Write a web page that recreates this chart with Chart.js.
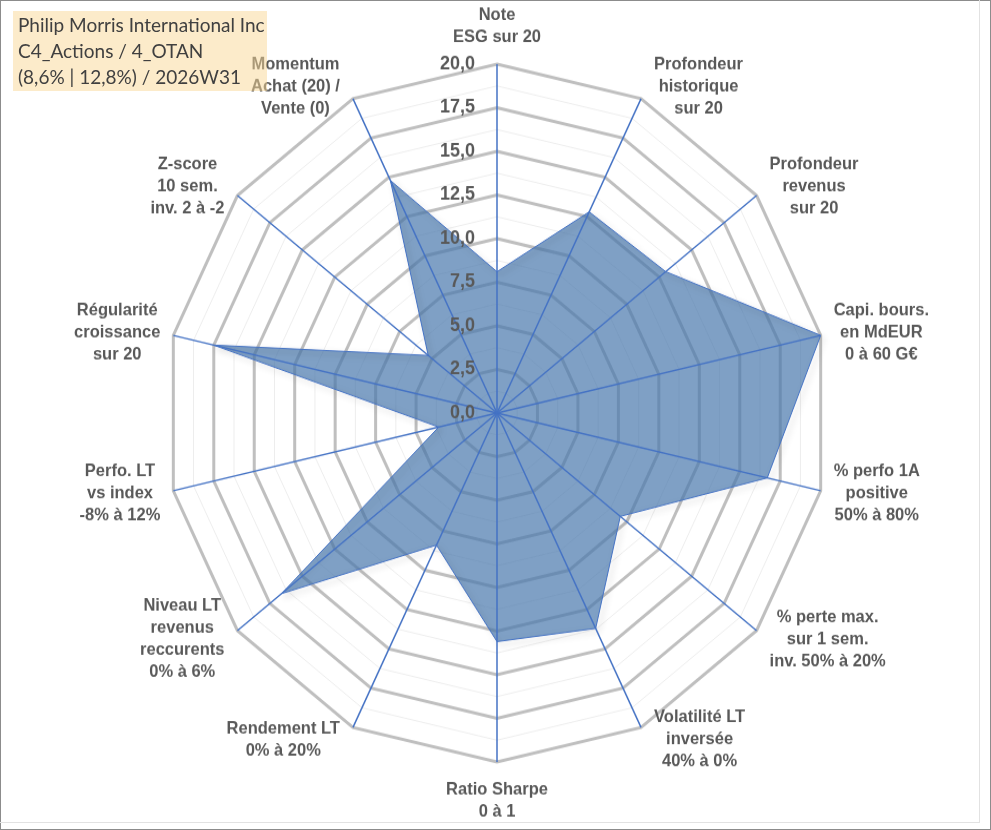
<!DOCTYPE html>
<html lang="fr">
<head>
<meta charset="utf-8">
<title>Philip Morris International Inc - radar</title>
<script src="https://cdn.jsdelivr.net/npm/chart.js@4/dist/chart.umd.min.js"></script>
<style>
  html, body { margin: 0; padding: 0; background: #fff; }
  #page { position: relative; width: 991px; height: 830px; overflow: hidden; }
  #frame { position: absolute; left: 0; top: 0; width: 989px; height: 828px; border: 1px solid #8c8c8c; }
  #inner { position: absolute; left: 0; top: 0; width: 979px; height: 822px; border-right: 1px solid #e2e2e2; border-bottom: 1px solid #e2e2e2; }
  /* the reference picture is stretched a little in height, so is the canvas */
  #stretch { position: absolute; left: 0; top: 0; width: 991px; height: 790px; transform: scale(1, 1.051); transform-origin: 0 0; }
  #title {
    position: absolute; left: 13px; top: 11px; width: 254px; height: 80px;
    background: rgba(250, 215, 150, 0.5);
    font-family: Lato, "Open Sans", sans-serif; font-size: 19px; line-height: 26px;
    color: #404040; padding: 1px 0 0 5px; box-sizing: border-box; white-space: nowrap;
  }
</style>
</head>
<body>
<div id="page">
  <div id="frame"></div>
  <div id="inner"></div>
  <div id="stretch"><canvas id="radar" width="991" height="790"></canvas></div>
  <div id="title">Philip Morris International Inc<br>C4_Actions / 4_OTAN<br>(8,6% | 12,8%) / 2026W31</div>
</div>
<script>
// axes of the radar, one per criterion (text split on lines as in the sheet)
const criteria = [
    ['Note', 'ESG sur 20'],
    ['Profondeur', 'historique', 'sur 20'],
    ['Profondeur', 'revenus', 'sur 20'],
    ['Capi. bours.', 'en MdEUR', '0 à 60 G€'],
    ['% perfo 1A', 'positive', '50% à 80%'],
    ['% perte max.', 'sur 1 sem.', 'inv. 50% à 20%'],
    ['Volatilité LT', 'inversée', '40% à 0%'],
    ['Ratio Sharpe', '0 à 1'],
    ['Rendement LT', '0% à 20%'],
    ['Niveau LT', 'revenus', 'reccurents', '0% à 6%'],
    ['Perfo. LT', 'vs index', '-8% à 12%'],
    ['Régularité', 'croissance', 'sur 20'],
    ['Z-score', '10 sem.', 'inv. 2 à -2'],
    ['Momentum', 'Achat (20) /', 'Vente (0)']
];

// scores sur 20
const scores = [8.1, 12.8, 13.0, 20.0, 16.7, 9.5, 13.7, 13.1, 8.4, 16.6, 3.6, 17.5, 5.3, 14.8];

// labelled rings
const majorTicks = [0, 2.5, 5, 7.5, 10, 12.5, 15, 17.5, 20];
const scaleMax = 20;
const minorStep = 1.25;

const labelFont = 'bold 16.5px "Liberation Sans", Arial, sans-serif';
const tickFont = 'bold 18px "Liberation Sans", Arial, sans-serif';
const textGrey = '#595959';
const axisBlue = '#4472C4';

function fmt(v) {
    return v.toFixed(1).replace('.', ',');
}

// soft shadow on the outline, then axes, tick values and criteria on top
const overlay = {
    id: 'overlay',
    beforeDatasetDraw(chart) {
        const ctx = chart.ctx;
        ctx.save();
        ctx.shadowColor = 'rgba(0,0,0,0.3)';
        ctx.shadowBlur = 6;
        ctx.shadowOffsetX = 3;
        ctx.shadowOffsetY = 3;
    },
    afterDatasetDraw(chart) {
        chart.ctx.restore();
    },
    afterDatasetsDraw(chart) {
        const ctx = chart.ctx;
        const scale = chart.scales.r;
        const n = chart.data.labels.length;

        // axis lines go over the filled area
        ctx.save();
        ctx.strokeStyle = axisBlue;
        ctx.lineWidth = 1.5;
        for (let i = 0; i < n; i++) {
            const p = scale.getPointPosition(i, scale.drawingArea);
            ctx.beginPath();
            ctx.moveTo(scale.xCenter, scale.yCenter);
            ctx.lineTo(p.x, p.y);
            ctx.stroke();
        }

        // tick values on the left of the vertical axis
        ctx.font = tickFont;
        ctx.fillStyle = textGrey;
        ctx.textAlign = 'right';
        ctx.textBaseline = 'middle';
        majorTicks.forEach(v => {
            const y = scale.yCenter - scale.getDistanceFromCenterForValue(v);
            ctx.fillText(fmt(v), scale.xCenter - 22, y);
        });

        // criteria labels, centred lines, placed beside each outer corner
        ctx.font = labelFont;
        ctx.textAlign = 'center';
        const lh = 21;
        for (let i = 0; i < n; i++) {
            const lines = chart.data.labels[i];
            const p = scale.getPointPosition(i, scale.drawingArea);
            const a = i * 2 * Math.PI / n;
            const s = Math.sin(a), c = Math.cos(a);
            const w = Math.max(...lines.map(t => ctx.measureText(t).width));
            let cx, firstY;
            if (Math.abs(s) < 1e-6) {
                cx = p.x;
                if (c > 0) firstY = p.y - 26 - (lines.length - 1) * lh;
                else firstY = p.y + 26;
            } else {
                cx = p.x + Math.sign(s) * (w / 2 + 13);
                const cy = p.y - c * 13;
                firstY = cy - (lines.length - 1) * lh / 2;
            }
            lines.forEach((t, k) => ctx.fillText(t, cx, firstY + k * lh));
        }
        ctx.restore();
    }
};

const chart = new Chart(document.getElementById('radar'), {
    type: 'radar',
    data: {
        labels: criteria,
        datasets: [{
            label: 'Philip Morris International Inc',
            data: scores,
            backgroundColor: 'rgba(72, 120, 172, 0.7)',
            borderColor: axisBlue,
            borderWidth: 1,
            pointRadius: 0,
            fill: true
        }]
    },
    options: {
        responsive: false,
        animation: false,
        layout: { padding: { left: 165, right: 161, top: 61, bottom: 65 } },
        plugins: {
            legend: { display: false },
            tooltip: { enabled: false }
        },
        scales: {
            r: {
                min: 0,
                max: scaleMax,
                ticks: { display: false, stepSize: minorStep },
                grid: {
                    color: ctx => ctx.index % 2 === 0 ? '#BFBFBF' : '#EDEDED',
                    lineWidth: ctx => ctx.index % 2 === 0 ? 3 : 1
                },
                angleLines: { display: false },
                pointLabels: { display: false }
            }
        }
    },
    plugins: [overlay]
});
</script>
</body>
</html>
